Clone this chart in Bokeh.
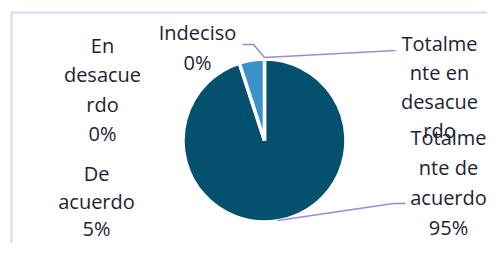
import math
from bokeh.plotting import figure
from bokeh.models import Range1d
from bokeh.core.properties import value
from bokeh.embed import file_html
from bokeh.resources import INLINE

# ---- data ----
categories = ["Totalmente de acuerdo", "De acuerdo", "Indeciso",
              "En desacuerdo", "Totalmente en desacuerdo"]
values = [95, 5, 0, 0, 0]
name_lines = [["Totalme", "nte de", "acuerdo"],
              ["De", "acuerdo"],
              ["Indeciso"],
              ["En", "desacue", "rdo"],
              ["Totalme", "nte en", "desacue", "rdo"]]
show_percent = [True, True, True, True, False]
colors = ["#03506F", "#3A92CD", "#A5A5A5", "#FFC000", "#5B9BD5"]

# ---- layout (canvas pixel coordinates, y downward) ----
W, H = 487, 243
cx, cy, R = 264, 140, 81.5
label_x = [448, 96, 197, 102, 439]
label_y0 = [137, 173, 32, 45, 43]
line_step = [30, 27.5, 30, 29.3, 29]
leaders = [
    [(277, 220), (393, 203), (405, 203)],
    None,
    [(242, 44), (253, 44), (264, 57)],
    None,
    [(264, 57), (395, 50)],
]

p = figure(width=W, height=H, output_backend="svg", toolbar_location=None,
           x_range=Range1d(0, W), y_range=Range1d(-H, 0),
           min_border=0)
p.axis.visible = False
p.grid.visible = False
p.outline_line_color = None
p.background_fill_color = "white"

# chart-area border (partially outside the view)
p.line([11, 11, 600], [-400, -12, -12], line_color="#D6D6F4", line_width=2)

# wedges, clockwise from 12 o'clock
total = sum(values)
start = math.pi / 2
starts, ends = [], []
for v in values:
    end = start - 2 * math.pi * v / total
    starts.append(start)
    ends.append(end)
    start = end
for i, v in enumerate(values):
    if v > 0:
        p.wedge(x=cx, y=-cy, radius=R, start_angle=starts[i], end_angle=ends[i],
                direction="clock", fill_color=colors[i], line_color="white",
                line_width=3.5)

# leader lines
for pts in leaders:
    if pts:
        p.line([q[0] for q in pts], [-q[1] for q in pts],
               line_color="#978BE0", line_width=1.6)

# labels
xs, ys, ts = [], [], []
for i, cat in enumerate(categories):
    lines = list(name_lines[i])
    if show_percent[i]:
        lines.append(f"{values[i]}%")
    for k, t in enumerate(lines):
        xs.append(label_x[i])
        ys.append(-(label_y0[i] + k * line_step[i]))
        ts.append(t)
p.text(x=xs, y=ys, text=ts, text_font=value("Open Sans"), text_font_size="20px",
       text_color="#1E1E35", text_align="center", text_baseline="middle")

open("out.html", "w").write(file_html(p, INLINE))
